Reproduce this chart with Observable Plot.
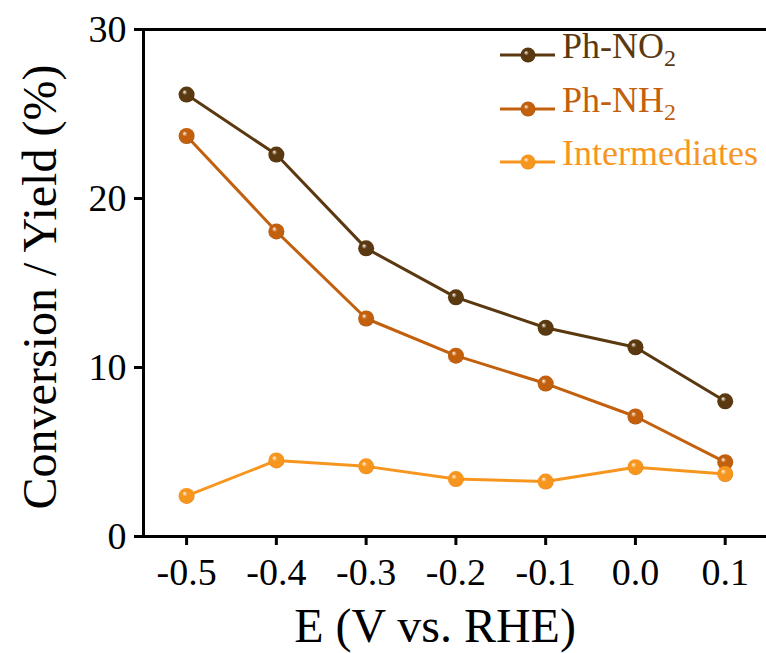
<!DOCTYPE html>
<html>
<head>
<meta charset="utf-8">
<script src="https://cdn.jsdelivr.net/npm/d3@7"></script>
<script src="https://cdn.jsdelivr.net/npm/@observablehq/plot@0.6"></script>
<style>
  html, body { margin: 0; padding: 0; background: #fff; }
  #wrap { position: relative; width: 766px; height: 653px; }
  .legend { position: absolute; left: 500px; top: 30px; font-family: "Liberation Serif", "Times New Roman", serif; font-size: 36px; }
  .row { position: absolute; left: 0; height: 40px; white-space: nowrap; }
  .row svg { position: absolute; left: 0; top: 0; }
  .row span { position: absolute; left: 62px; top: -4px; line-height: 40px; }
  .row sub { font-size: 24px; vertical-align: -8px; line-height: 0; }
</style>
</head>
<body>
<div id="wrap"></div>
<script>
// ---- data ----
const E = [-0.5, -0.4, -0.3, -0.2, -0.1, 0.0, 0.1];
const phNO2 = [26.15, 22.6, 17.05, 14.15, 12.35, 11.2, 8.0];
const phNH2 = [23.7, 18.05, 12.9, 10.7, 9.05, 7.1, 4.4];
const intermediates = [2.4, 4.5, 4.15, 3.4, 3.25, 4.1, 3.7];
const seriesNames = ["Ph-NO2", "Ph-NH2", "Intermediates"];
const seriesColors = ["#5a3810", "#c2600e", "#f7961f"];
const seriesDark = ["#2e1a04", "#7a3a04", "#c86a06"];
const xTicks = [-0.5, -0.4, -0.3, -0.2, -0.1, 0.0, 0.1];
const yTicks = [0, 10, 20, 30];
const xLabel = "E (V vs. RHE)";
const yLabel = "Conversion / Yield (%)";

const values = [phNO2, phNH2, intermediates];
const series = seriesNames.map((name, i) => E.map((e, j) => ({E: e, v: values[i][j], name})));

const font = "Liberation Serif, Times New Roman, serif";
const marks = [];
series.forEach((d, i) => {
  marks.push(Plot.line(d, {x: "E", y: "v", stroke: seriesColors[i], strokeWidth: 3}));
});
series.forEach((d, i) => {
  marks.push(Plot.dot(d, {x: "E", y: "v", r: 8, fill: `url(#ball${i})`, stroke: "none"}));
});

const chart = Plot.plot({
  width: 766,
  height: 653,
  marginLeft: 143,
  marginRight: 0,
  marginTop: 29,
  marginBottom: 117,
  style: {fontFamily: font, color: "#000", background: "#fff", overflow: "visible"},
  x: {domain: [-0.548, 0.146]},
  y: {domain: [0, 30]},
  marks: [
    Plot.axisX({ticks: xTicks, tickFormat: d => d.toFixed(1), tickSize: 9, tickPadding: 13, strokeWidth: 3, fontSize: 38, label: null}),
    Plot.axisY({ticks: yTicks, tickSize: 9, tickPadding: 8, strokeWidth: 3, fontSize: 38, label: null}),
    Plot.ruleY([0], {strokeWidth: 3}),
    Plot.ruleY([30], {strokeWidth: 3}),
    Plot.ruleX([-0.548], {strokeWidth: 3}),
    Plot.text([xLabel], {frameAnchor: "bottom", dx: -20, dy: 105, fontSize: 48, lineAnchor: "bottom", textAnchor: "middle", fill: "#000"}),
    Plot.text([yLabel], {frameAnchor: "left", rotate: -90, dx: -88, dy: 4, fontSize: 48, textAnchor: "middle", lineAnchor: "bottom", fill: "#000"}),
    ...marks
  ]
});

// sphere-like radial gradients for markers
const ns = "http://www.w3.org/2000/svg";
const defs = document.createElementNS(ns, "defs");
seriesColors.forEach((c, i) => {
  const g = document.createElementNS(ns, "radialGradient");
  g.setAttribute("id", `ball${i}`);
  g.setAttribute("cx", "0.5"); g.setAttribute("cy", "0.5"); g.setAttribute("r", "0.55");
  g.setAttribute("fx", "0.35"); g.setAttribute("fy", "0.32");
  [["0", "#fff8ee"], ["0.3", c], ["0.85", c], ["1", seriesDark[i]]].forEach(([o, col]) => {
    const s = document.createElementNS(ns, "stop");
    s.setAttribute("offset", o); s.setAttribute("stop-color", col);
    g.appendChild(s);
  });
  defs.appendChild(g);
});
chart.insertBefore(defs, chart.firstChild);

const wrap = document.getElementById("wrap");
wrap.appendChild(chart);

// legend
const legend = document.createElement("div");
legend.className = "legend";
const labelsHTML = ["Ph-NO<sub>2</sub>", "Ph-NH<sub>2</sub>", "Intermediates"];
seriesNames.forEach((n, i) => {
  const row = document.createElement("div");
  row.className = "row";
  row.style.top = (i * 53.5) + "px";
  row.style.color = seriesColors[i];
  row.innerHTML = `<svg width="60" height="50"><defs>${defs.children[i].outerHTML.replace(`ball${i}`, `lball${i}`)}</defs>
    <line x1="0" x2="55" y1="25" y2="25" stroke="${seriesColors[i]}" stroke-width="3"/>
    <circle cx="28" cy="25" r="7.5" fill="url(#lball${i})"/></svg><span>${labelsHTML[i]}</span>`;
  legend.appendChild(row);
});
wrap.appendChild(legend);
</script>
</body>
</html>
